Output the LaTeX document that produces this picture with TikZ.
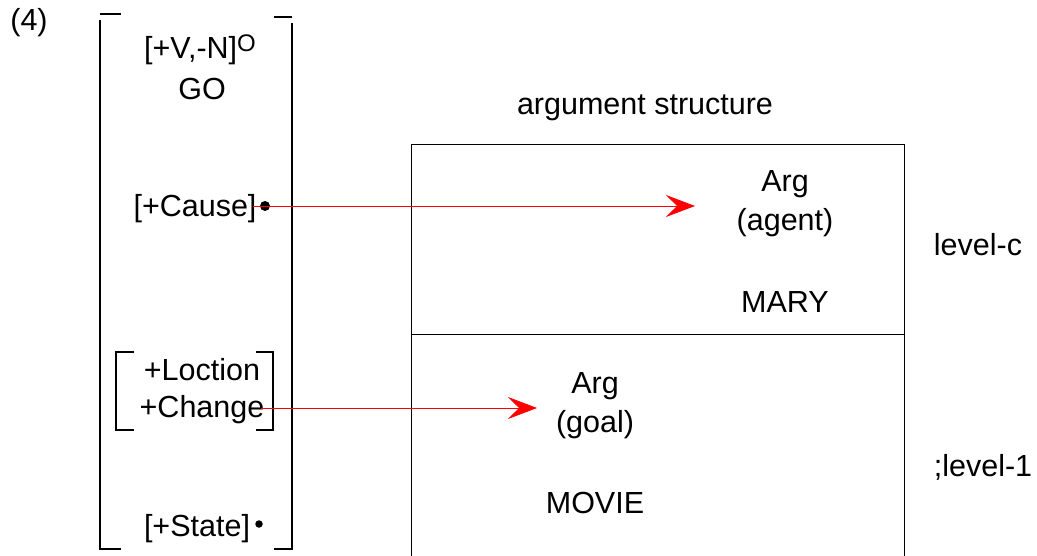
\documentclass[tikz,border=0pt]{standalone}
\usepackage{fontspec}
\setmainfont{Liberation Sans}
\usetikzlibrary{arrows.meta}
\begin{document}
\begin{tikzpicture}[x=1pt,y=-1pt,
  lbl/.style={inner sep=0pt,font=\fontsize{30.5}{34}\selectfont},
  brk/.style={line width=2.6pt,line cap=butt},
  ibrk/.style={line width=2pt},
  boxline/.style={line width=0.8pt},
  conn/.style={red,line width=0.8pt,-{Stealth[length=29pt,width=22pt,inset=11pt]}},
  dot/.style={circle,fill=black,inner sep=0pt,minimum size=#1}]
\useasboundingbox (0,0) rectangle (1037,556);
% labels
\node[lbl] (num) at (29,23) {(4)};
\node[lbl] (cat) at (200,50) {[+V,-N]\raisebox{0.45ex}{\fontsize{24}{26}\selectfont O}};
\node[lbl] (go) at (202,89) {GO};
\node[lbl] (cause) at (195,209) {[+Cause]};
\node[lbl] (loc) at (202,370) {+Loction};
\node[lbl] (chg) at (202,410) {+Change};
\node[lbl] (state) at (197,529) {[+State]};
\node[dot=10pt] (cdot) at (265,206) {};
\node[dot=7.5pt] (sdot) at (259,524) {};
% big bracket
\draw[brk] (100,14) -- (121,14);
\draw[brk] (100,20) -- (100,549) -- (121,549);
\draw[brk] (274,17) -- (292,17);
\draw[brk] (292,23) -- (292,549) -- (274,549);
% inner bracket
\draw[ibrk] (134,352) -- (116,352) -- (116,430) -- (134,430);
\draw[ibrk] (256,352) -- (273,352) -- (273,430) -- (256,430);
% argument structure box
\node[lbl] (as) at (645,108) {argument structure};
\draw[boxline] (411,560) -- (411,144) -- (904,144) -- (904,560);
\draw[boxline] (411,334) -- (904,334);
\node[lbl] (arg1) at (785,184) {Arg};
\node[lbl] (agent) at (785,223) {(agent)};
\node[lbl] (mary) at (785,302) {MARY};
\node[lbl] (lc) at (978,245) {level-c};
\node[lbl] (arg2) at (595,386) {Arg};
\node[lbl] (goal) at (595,425) {(goal)};
\node[lbl] (movie) at (595,503) {MOVIE};
\node[lbl] (l1) at (983,467) {;level-1};
% connectors
\coordinate (c1s) at (253,206);
\coordinate (c1e) at (695,206);
\coordinate (c2s) at (261,408);
\coordinate (c2e) at (537,408);
\draw[conn] (c1s) -- (c1e);
\draw[conn] (c2s) -- (c2e);
\end{tikzpicture}
\end{document}
